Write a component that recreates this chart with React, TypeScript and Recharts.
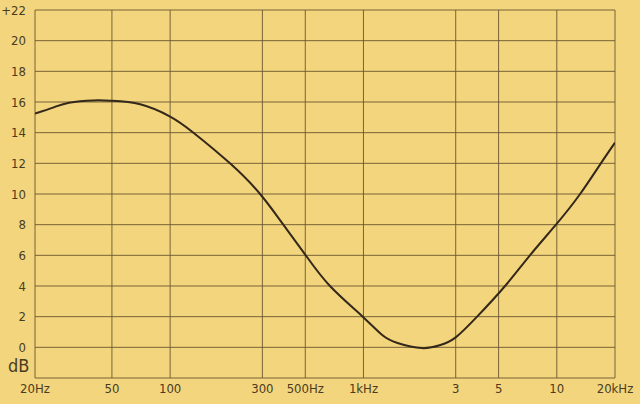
import { LineChart, Line, XAxis, YAxis, CartesianGrid } from "recharts";

// frequency (Hz) and level (dB)
const FREQ = [
  20, 25, 30, 40, 50, 70, 100, 132, 204, 292, 385, 503, 671, 991, 1250, 1500,
  2000, 2500, 3000, 3870, 5400, 7260, 9900, 13200, 16900, 20000,
];
const LEVEL = [
  15.25, 15.65, 15.95, 16.1, 16.08, 15.85, 15.05, 14, 12, 10, 8, 6, 4, 2, 0.8,
  0.28, -0.05, 0.15, 0.65, 2, 4, 6, 8, 10, 12, 13.35,
];

const X_TICKS = [20, 50, 100, 300, 500, 1000, 3000, 5000, 10000, 20000];
const X_LABELS = ["20Hz", "50", "100", "300", "500Hz", "1kHz", "3", "5", "10", "20kHz"];
const Y_TICKS = [-2, 0, 2, 4, 6, 8, 10, 12, 14, 16, 18, 20, 22];

const PAPER = "#f3d57e";
const INK = "#4a3c20";
const GRID = "#6a5830";
const FONT = "'Liberation Sans Narrow', 'DejaVu Sans Condensed', sans-serif";

const data = FREQ.map((f, i) => ({ freq: f, db: LEVEL[i] }));

export default function App() {
  return (
    <div
      style={{
        position: "fixed",
        left: 0,
        top: 0,
        width: 640,
        height: 404,
        background: PAPER,
        fontFamily: FONT,
      }}
    >
      <LineChart
        width={640}
        height={404}
        data={data}
        margin={{ top: 10, right: 25, left: 0, bottom: 0 }}
      >
        <CartesianGrid stroke={GRID} strokeWidth={1} strokeOpacity={0.9} />
        <XAxis
          dataKey="freq"
          type="number"
          scale="log"
          domain={[20, 20000]}
          ticks={X_TICKS}
          allowDataOverflow
          axisLine={false}
          tickLine={false}
          tickSize={4}
          tickMargin={2}
          height={26}
          interval={0}
          tickFormatter={(v) => X_LABELS[X_TICKS.indexOf(v)] ?? ""}
          tick={{ fontSize: 13, fill: INK, fontFamily: FONT }}
        />
        <YAxis
          type="number"
          domain={[-2, 22]}
          ticks={Y_TICKS}
          allowDataOverflow
          axisLine={false}
          tickLine={false}
          tickSize={6}
          tickMargin={3}
          width={35}
          interval={0}
          tickFormatter={(v) => (v === -2 ? "" : v === 22 ? "+22" : String(v))}
          tick={{ fontSize: 13, fill: INK, fontFamily: FONT }}
        />
        <Line
          dataKey="db"
          type="natural"
          stroke="#33281a"
          strokeWidth={2}
          dot={false}
          isAnimationActive={false}
        />
      </LineChart>
      <div
        style={{
          position: "absolute",
          left: 8,
          top: 357,
          fontSize: 18,
          color: INK,
          lineHeight: "18px",
        }}
      >
        dB
      </div>
    </div>
  );
}
